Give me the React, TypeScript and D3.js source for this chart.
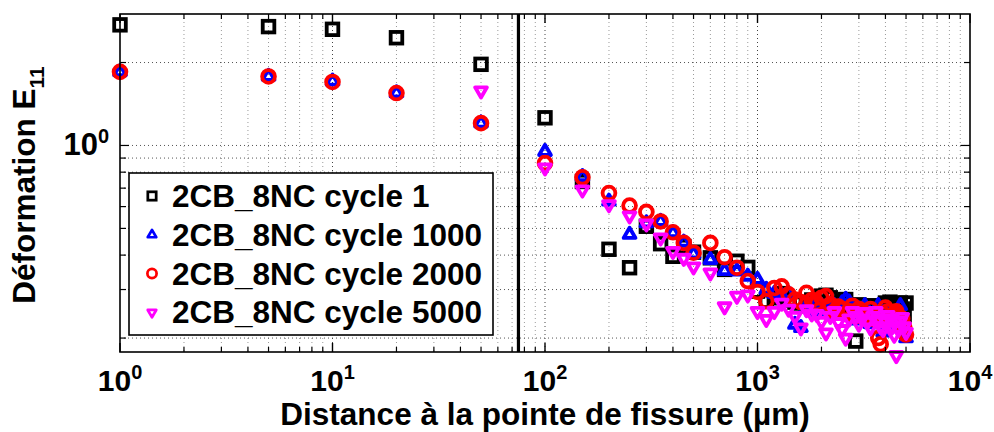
import React from "react";
import * as d3 from "d3";

const W = 994;
const H = 432;

// x positions (µm)
const xMain = [1, 5, 10, 20, 50, 100, 150, 200, 250, 300, 350, 400, 450, 500, 600, 700, 800, 900,
  1000, 1100, 1200, 1300, 1400, 1500, 1600, 1700, 1800, 1900, 2000, 2100, 2200, 2300, 2400, 2500,
  2600, 2700, 2800, 2900, 3000, 3100, 3200, 3300, 3400, 3500, 3600, 3700, 3800, 3900, 4000, 4100,
  4200, 4300, 4400, 4500, 4600, 4700, 4800, 4900, 5000];
const xCycle5000 = [50, 100, 150, 200, 250, 300, 350, 400, 450, 500, 600, 700, 800, 900,
  1000, 1100, 1200, 1300, 1400, 1500, 1600, 1700, 1800, 1900, 2000, 2100, 2200, 2300, 2400, 2500,
  2600, 2700, 2800, 2900, 3000, 3100, 3200, 3300, 3400, 3500, 3600, 3700, 3800, 3900, 4000, 4100,
  4200, 4300, 4400, 4500, 4600, 4700, 4800, 4900, 5000];

const cycle1 = [2.74, 2.70, 2.64, 2.46, 1.97, 1.26, 0.74, 0.42, 0.36, 0.509, 0.44, 0.396, 0.43, 0.41, 0.391, 0.355, 0.38, 0.361,
  0.296, 0.272, 0.28, 0.29, 0.275, 0.27, 0.268, 0.262, 0.275, 0.27, 0.284, 0.286, 0.28, 0.265, 0.258, 0.27,
  0.276, 0.262, 0.25, 0.195, 0.264, 0.255, 0.24, 0.25, 0.262, 0.258, 0.245, 0.23, 0.24, 0.26, 0.268, 0.255,
  0.27, 0.248, 0.236, 0.25, 0.262, 0.268, 0.255, 0.24, 0.268];
const cycle1000 = [1.85, 1.78, 1.71, 1.55, 1.205, 0.95, 0.77, 0.627, 0.475, 0.523, 0.53, 0.482, 0.445, 0.404, 0.385, 0.351, 0.35, 0.335,
  0.326, 0.30, 0.29, 0.285, 0.29, 0.224, 0.218, 0.26, 0.25, 0.27, 0.262, 0.245, 0.255, 0.262, 0.25, 0.268,
  0.276, 0.27, 0.24, 0.232, 0.255, 0.25, 0.262, 0.235, 0.225, 0.245, 0.25, 0.262, 0.24, 0.21, 0.235, 0.25,
  0.245, 0.228, 0.22, 0.24, 0.25, 0.262, 0.232, 0.21, 0.20];
const cycle2000 = [1.85, 1.78, 1.70, 1.55, 1.205, 0.863, 0.766, 0.672, 0.605, 0.574, 0.53, 0.484, 0.443, 0.408, 0.443, 0.393, 0.36, 0.322,
  0.294, 0.272, 0.304, 0.308, 0.288, 0.276, 0.27, 0.292, 0.275, 0.268, 0.28, 0.284, 0.265, 0.25, 0.26, 0.255,
  0.245, 0.25, 0.262, 0.24, 0.255, 0.25, 0.24, 0.245, 0.255, 0.235, 0.245, 0.20, 0.19, 0.245, 0.258, 0.25,
  0.24, 0.235, 0.245, 0.25, 0.24, 0.228, 0.235, 0.22, 0.206];
const cycle5000 = [1.58, 0.83, 0.69, 0.61, 0.556, 0.52, 0.462, 0.413, 0.39, 0.363, 0.345, 0.26, 0.284, 0.287,
  0.25, 0.234, 0.25, 0.268, 0.255, 0.24, 0.218, 0.254, 0.245, 0.244, 0.23, 0.209, 0.24, 0.25, 0.228, 0.215,
  0.20, 0.235, 0.25, 0.24, 0.225, 0.235, 0.248, 0.23, 0.218, 0.24, 0.25, 0.235, 0.22, 0.215, 0.23, 0.242,
  0.235, 0.22, 0.205, 0.173, 0.215, 0.23, 0.238, 0.22, 0.21];

const legendLabels = ["2CB_8NC cycle 1", "2CB_8NC cycle 1000", "2CB_8NC cycle 2000", "2CB_8NC cycle 5000"];
const xTickExps = [0, 1, 2, 3, 4];
const yTickMinor = [0.2, 0.3, 0.4, 0.5, 0.6, 0.7, 0.8, 0.9, 1, 2, 3];
const crackTip = 75;

const FONT = "'Liberation Sans', Arial, Helvetica, sans-serif";

const L = 120, R = 970, T = 14, B = 352;
const x = d3.scaleLog().domain([1, 10000]).range([L, R]);
const y = d3.scaleLog().domain([0.178, 3]).range([B, T]);

type Kind = "square" | "up" | "circle" | "down";

function Marker({ kind, cx, cy, color, s = 1 }: { kind: Kind; cx: number; cy: number; color: string; s?: number }) {
  const sw = 3.8 * s;
  if (kind === "square") {
    const h = 5.8 * s;
    return <rect x={cx - h} y={cy - h} width={2 * h} height={2 * h} fill="none" stroke={color} strokeWidth={sw} />;
  }
  if (kind === "circle") {
    return <circle cx={cx} cy={cy} r={6.4 * s} fill="none" stroke={color} strokeWidth={sw} />;
  }
  const r = 6.8 * s;
  const dir = kind === "up" ? 1 : -1;
  const pts = [
    [cx, cy - dir * r],
    [cx + r * 0.87, cy + dir * r * 0.5],
    [cx - r * 0.87, cy + dir * r * 0.5],
  ];
  return <polygon points={pts.map((p) => p.join(",")).join(" ")} fill="none" stroke={color} strokeWidth={sw} strokeLinejoin="round" />;
}

const series: { xs: number[]; ys: number[]; kind: Kind; color: string }[] = [
  { xs: xMain, ys: cycle1, kind: "square", color: "#000000" },
  { xs: xMain, ys: cycle1000, kind: "up", color: "#0000ff" },
  { xs: xMain, ys: cycle2000, kind: "circle", color: "#ff0000" },
  { xs: xCycle5000, ys: cycle5000, kind: "down", color: "#ff00ff" },
];

export default function App() {
  const xMinor: number[] = [];
  for (let e = 0; e < 4; e++) for (let m = 2; m <= 9; m++) xMinor.push(m * Math.pow(10, e));
  const xMajor = xTickExps.map((e) => Math.pow(10, e));

  return (
    <svg width={W} height={H} style={{ position: "absolute", left: 0, top: 0, background: "#fff" }} fontFamily={FONT} fontWeight="bold">
      <rect x={0} y={0} width={W} height={H} fill="#fff" />
      {/* grid */}
      <g>
        {xMinor.map((v) => (
          <line key={"gx" + v} x1={x(v)} x2={x(v)} y1={T} y2={B} stroke="#9a9a9a" strokeWidth={1} strokeDasharray="1 3" />
        ))}
        {xMajor.slice(1, -1).map((v) => (
          <line key={"gX" + v} x1={x(v)} x2={x(v)} y1={T} y2={B} stroke="#444" strokeWidth={1} strokeDasharray="1 3" />
        ))}
        {yTickMinor.slice(0, -1).map((v) => (
          <line key={"gy" + v} x1={L} x2={R} y1={y(v)} y2={y(v)} stroke="#555" strokeWidth={1} strokeDasharray="1 3" />
        ))}
      </g>
      {/* crack tip line */}
      <line x1={x(crackTip)} x2={x(crackTip)} y1={T} y2={B} stroke="#000" strokeWidth={3.2} />
      {/* data */}
      {series.map((s, si) => (
        <g key={"s" + si}>
          {s.xs.map((xv, i) => (
            <Marker key={i} kind={s.kind} cx={x(xv)} cy={y(s.ys[i])} color={s.color} />
          ))}
        </g>
      ))}
      {/* frame */}
      <rect x={L} y={T} width={R - L} height={B - T} fill="none" stroke="#000" strokeWidth={1.6} />
      {/* x ticks */}
      {xMinor.map((v) => (
        <g key={"tx" + v}>
          <line x1={x(v)} x2={x(v)} y1={B} y2={B - 5} stroke="#000" strokeWidth={1.2} />
          <line x1={x(v)} x2={x(v)} y1={T} y2={T + 5} stroke="#000" strokeWidth={1.2} />
        </g>
      ))}
      {xMajor.map((v) => (
        <g key={"tX" + v}>
          <line x1={x(v)} x2={x(v)} y1={B} y2={B - 9} stroke="#000" strokeWidth={1.4} />
          <line x1={x(v)} x2={x(v)} y1={T} y2={T + 9} stroke="#000" strokeWidth={1.4} />
        </g>
      ))}
      {/* y ticks */}
      {yTickMinor.slice(0, -1).map((v) => {
        const len = v === 1 ? 9 : 6;
        return (
          <g key={"ty" + v}>
            <line x1={L} x2={L + len} y1={y(v)} y2={y(v)} stroke="#000" strokeWidth={1.2} />
            <line x1={R} x2={R - len} y1={y(v)} y2={y(v)} stroke="#000" strokeWidth={1.2} />
          </g>
        );
      })}
      {/* x tick labels */}
      {xTickExps.map((e) => (
        <text key={"lx" + e} x={x(Math.pow(10, e))} y={391} textAnchor="middle" fontSize={30}>
          10<tspan fontSize={20} dy={-12}>{e}</tspan>
        </text>
      ))}
      {/* y tick label */}
      <text x={109} y={155} textAnchor="end" fontSize={31}>
        10<tspan fontSize={20} dy={-12}>0</tspan>
      </text>
      {/* axis titles */}
      <text x={545} y={425} textAnchor="middle" fontSize={31.5}>
        Distance à la pointe de fissure (µm)
      </text>
      <text transform="translate(35,185) rotate(-90)" textAnchor="middle" fontSize={31.5}>
        Déformation E<tspan fontSize={21} dy={9}>11</tspan>
      </text>
      {/* legend */}
      <rect x={129} y={173} width={364} height={162} fill="#fff" stroke="#000" strokeWidth={1.6} />
      {legendLabels.map((lab, i) => {
        const cy = 196 + i * 38.8;
        return (
          <g key={"lg" + i}>
            <Marker kind={series[i].kind} cx={152} cy={cy} color={series[i].color} s={0.72} />
            <text x={172} y={cy + 11} fontSize={31.5}>{lab}</text>
          </g>
        );
      })}
    </svg>
  );
}
